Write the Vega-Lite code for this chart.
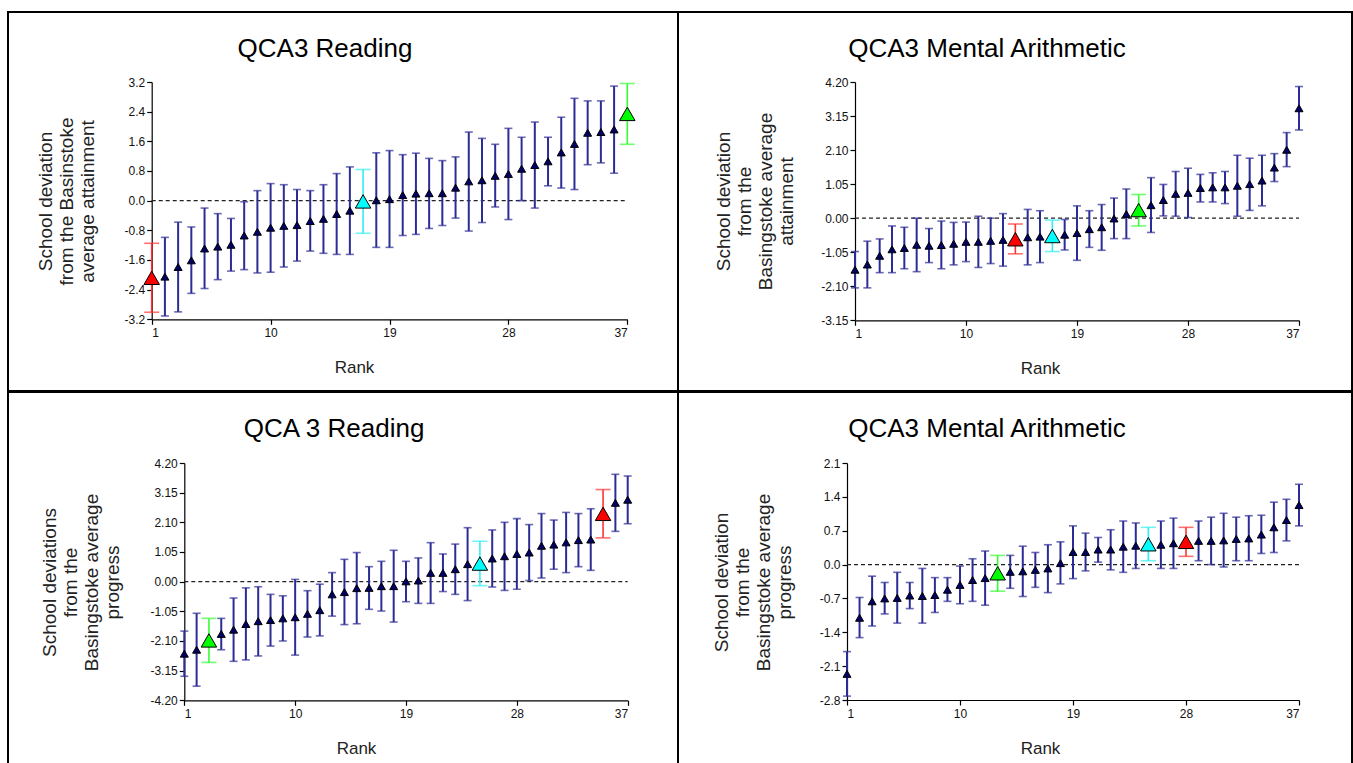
{
  "$schema": "https://vega.github.io/schema/vega-lite/v6.json",
  "padding": {"left": 7, "top": 11, "right": 0, "bottom": 0},
  "spacing": -2,
  "config": {
    "font": "Liberation Sans",
    "view": {"stroke": "#000", "strokeWidth": 2},
    "axis": {"grid": false, "domainColor": "#000", "tickColor": "#000", "labelColor": "#111", "titleColor": "#222", "labelFontSize": 12, "titleFontWeight": "normal", "tickSize": 5, "domainWidth": 1.2, "tickWidth": 1.2, "labelPadding": 3},
    "axisX": {"titleFontSize": 17},
    "axisY": {"titleFontSize": 19, "titleLineHeight": 21, "labelPadding": 2},
    "title": {"fontSize": 26, "fontWeight": "normal", "color": "#000", "anchor": "middle", "frame": "group", "offset": 0, "baseline": "alphabetic"},
    "locale": {"number": {"decimal": ".", "thousands": ",", "grouping": [3], "currency": ["$", ""], "minus": "-"}}
  },
  "datasets": {
    "schools": [
      {"panel": "TL", "rank": 1, "value": -2.08, "lo": -3.01, "hi": -1.15, "group": "School A"},
      {"panel": "TL", "rank": 2, "value": -2.05, "lo": -3.11, "hi": -0.99, "group": "Other"},
      {"panel": "TL", "rank": 3, "value": -1.79, "lo": -3.00, "hi": -0.58, "group": "Other"},
      {"panel": "TL", "rank": 4, "value": -1.61, "lo": -2.50, "hi": -0.71, "group": "Other"},
      {"panel": "TL", "rank": 5, "value": -1.29, "lo": -2.37, "hi": -0.20, "group": "Other"},
      {"panel": "TL", "rank": 6, "value": -1.24, "lo": -2.13, "hi": -0.35, "group": "Other"},
      {"panel": "TL", "rank": 7, "value": -1.19, "lo": -1.90, "hi": -0.48, "group": "Other"},
      {"panel": "TL", "rank": 8, "value": -0.94, "lo": -1.86, "hi": -0.03, "group": "Other"},
      {"panel": "TL", "rank": 9, "value": -0.84, "lo": -1.95, "hi": 0.27, "group": "Other"},
      {"panel": "TL", "rank": 10, "value": -0.73, "lo": -1.93, "hi": 0.46, "group": "Other"},
      {"panel": "TL", "rank": 11, "value": -0.68, "lo": -1.79, "hi": 0.43, "group": "Other"},
      {"panel": "TL", "rank": 12, "value": -0.66, "lo": -1.63, "hi": 0.30, "group": "Other"},
      {"panel": "TL", "rank": 13, "value": -0.55, "lo": -1.36, "hi": 0.27, "group": "Other"},
      {"panel": "TL", "rank": 14, "value": -0.49, "lo": -1.42, "hi": 0.43, "group": "Other"},
      {"panel": "TL", "rank": 15, "value": -0.36, "lo": -1.45, "hi": 0.73, "group": "Other"},
      {"panel": "TL", "rank": 16, "value": -0.27, "lo": -1.45, "hi": 0.91, "group": "Other"},
      {"panel": "TL", "rank": 17, "value": -0.02, "lo": -0.88, "hi": 0.84, "group": "School C"},
      {"panel": "TL", "rank": 18, "value": 0.01, "lo": -1.26, "hi": 1.29, "group": "Other"},
      {"panel": "TL", "rank": 19, "value": 0.04, "lo": -1.26, "hi": 1.35, "group": "Other"},
      {"panel": "TL", "rank": 20, "value": 0.15, "lo": -0.94, "hi": 1.24, "group": "Other"},
      {"panel": "TL", "rank": 21, "value": 0.19, "lo": -0.91, "hi": 1.28, "group": "Other"},
      {"panel": "TL", "rank": 22, "value": 0.20, "lo": -0.75, "hi": 1.14, "group": "Other"},
      {"panel": "TL", "rank": 23, "value": 0.20, "lo": -0.67, "hi": 1.08, "group": "Other"},
      {"panel": "TL", "rank": 24, "value": 0.35, "lo": -0.47, "hi": 1.18, "group": "Other"},
      {"panel": "TL", "rank": 25, "value": 0.52, "lo": -0.82, "hi": 1.85, "group": "Other"},
      {"panel": "TL", "rank": 26, "value": 0.55, "lo": -0.59, "hi": 1.68, "group": "Other"},
      {"panel": "TL", "rank": 27, "value": 0.67, "lo": -0.17, "hi": 1.52, "group": "Other"},
      {"panel": "TL", "rank": 28, "value": 0.72, "lo": -0.51, "hi": 1.95, "group": "Other"},
      {"panel": "TL", "rank": 29, "value": 0.86, "lo": 0.00, "hi": 1.71, "group": "Other"},
      {"panel": "TL", "rank": 30, "value": 0.96, "lo": -0.20, "hi": 2.12, "group": "Other"},
      {"panel": "TL", "rank": 31, "value": 1.06, "lo": 0.40, "hi": 1.71, "group": "Other"},
      {"panel": "TL", "rank": 32, "value": 1.30, "lo": 0.34, "hi": 2.25, "group": "Other"},
      {"panel": "TL", "rank": 33, "value": 1.53, "lo": 0.30, "hi": 2.76, "group": "Other"},
      {"panel": "TL", "rank": 34, "value": 1.83, "lo": 0.97, "hi": 2.69, "group": "Other"},
      {"panel": "TL", "rank": 35, "value": 1.85, "lo": 1.02, "hi": 2.69, "group": "Other"},
      {"panel": "TL", "rank": 36, "value": 1.92, "lo": 0.74, "hi": 3.09, "group": "Other"},
      {"panel": "TL", "rank": 37, "value": 2.34, "lo": 1.52, "hi": 3.16, "group": "School B"},

      {"panel": "TR", "rank": 1, "value": -1.59, "lo": -2.15, "hi": -1.03, "group": "Other"},
      {"panel": "TR", "rank": 2, "value": -1.43, "lo": -2.15, "hi": -0.71, "group": "Other"},
      {"panel": "TR", "rank": 3, "value": -1.16, "lo": -1.68, "hi": -0.64, "group": "Other"},
      {"panel": "TR", "rank": 4, "value": -0.96, "lo": -1.68, "hi": -0.24, "group": "Other"},
      {"panel": "TR", "rank": 5, "value": -0.92, "lo": -1.56, "hi": -0.28, "group": "Other"},
      {"panel": "TR", "rank": 6, "value": -0.82, "lo": -1.65, "hi": 0.00, "group": "Other"},
      {"panel": "TR", "rank": 7, "value": -0.85, "lo": -1.37, "hi": -0.32, "group": "Other"},
      {"panel": "TR", "rank": 8, "value": -0.83, "lo": -1.56, "hi": -0.09, "group": "Other"},
      {"panel": "TR", "rank": 9, "value": -0.79, "lo": -1.44, "hi": -0.13, "group": "Other"},
      {"panel": "TR", "rank": 10, "value": -0.73, "lo": -1.34, "hi": -0.12, "group": "Other"},
      {"panel": "TR", "rank": 11, "value": -0.73, "lo": -1.52, "hi": 0.06, "group": "Other"},
      {"panel": "TR", "rank": 12, "value": -0.70, "lo": -1.40, "hi": 0.00, "group": "Other"},
      {"panel": "TR", "rank": 13, "value": -0.67, "lo": -1.48, "hi": 0.14, "group": "Other"},
      {"panel": "TR", "rank": 14, "value": -0.65, "lo": -1.10, "hi": -0.18, "group": "School A"},
      {"panel": "TR", "rank": 15, "value": -0.59, "lo": -1.44, "hi": 0.27, "group": "Other"},
      {"panel": "TR", "rank": 16, "value": -0.57, "lo": -1.37, "hi": 0.23, "group": "Other"},
      {"panel": "TR", "rank": 17, "value": -0.55, "lo": -1.03, "hi": -0.06, "group": "School C"},
      {"panel": "TR", "rank": 18, "value": -0.51, "lo": -0.98, "hi": -0.04, "group": "Other"},
      {"panel": "TR", "rank": 19, "value": -0.46, "lo": -1.30, "hi": 0.38, "group": "Other"},
      {"panel": "TR", "rank": 20, "value": -0.34, "lo": -0.90, "hi": 0.23, "group": "Other"},
      {"panel": "TR", "rank": 21, "value": -0.28, "lo": -0.99, "hi": 0.42, "group": "Other"},
      {"panel": "TR", "rank": 22, "value": -0.01, "lo": -0.63, "hi": 0.62, "group": "Other"},
      {"panel": "TR", "rank": 23, "value": 0.13, "lo": -0.63, "hi": 0.90, "group": "Other"},
      {"panel": "TR", "rank": 24, "value": 0.25, "lo": -0.24, "hi": 0.73, "group": "School B"},
      {"panel": "TR", "rank": 25, "value": 0.40, "lo": -0.44, "hi": 1.25, "group": "Other"},
      {"panel": "TR", "rank": 26, "value": 0.56, "lo": 0.07, "hi": 1.04, "group": "Other"},
      {"panel": "TR", "rank": 27, "value": 0.75, "lo": 0.06, "hi": 1.44, "group": "Other"},
      {"panel": "TR", "rank": 28, "value": 0.78, "lo": 0.02, "hi": 1.54, "group": "Other"},
      {"panel": "TR", "rank": 29, "value": 0.93, "lo": 0.50, "hi": 1.35, "group": "Other"},
      {"panel": "TR", "rank": 30, "value": 0.95, "lo": 0.50, "hi": 1.40, "group": "Other"},
      {"panel": "TR", "rank": 31, "value": 0.95, "lo": 0.45, "hi": 1.44, "group": "Other"},
      {"panel": "TR", "rank": 32, "value": 1.00, "lo": 0.06, "hi": 1.94, "group": "Other"},
      {"panel": "TR", "rank": 33, "value": 1.05, "lo": 0.24, "hi": 1.85, "group": "Other"},
      {"panel": "TR", "rank": 34, "value": 1.16, "lo": 0.38, "hi": 1.94, "group": "Other"},
      {"panel": "TR", "rank": 35, "value": 1.56, "lo": 1.13, "hi": 1.99, "group": "Other"},
      {"panel": "TR", "rank": 36, "value": 2.11, "lo": 1.59, "hi": 2.64, "group": "Other"},
      {"panel": "TR", "rank": 37, "value": 3.39, "lo": 2.72, "hi": 4.06, "group": "Other"},

      {"panel": "BL", "rank": 1, "value": -2.55, "lo": -3.35, "hi": -1.75, "group": "Other"},
      {"panel": "BL", "rank": 2, "value": -2.41, "lo": -3.70, "hi": -1.12, "group": "Other"},
      {"panel": "BL", "rank": 3, "value": -2.08, "lo": -2.86, "hi": -1.30, "group": "School B"},
      {"panel": "BL", "rank": 4, "value": -1.85, "lo": -2.41, "hi": -1.30, "group": "Other"},
      {"panel": "BL", "rank": 5, "value": -1.70, "lo": -2.82, "hi": -0.58, "group": "Other"},
      {"panel": "BL", "rank": 6, "value": -1.50, "lo": -2.77, "hi": -0.22, "group": "Other"},
      {"panel": "BL", "rank": 7, "value": -1.40, "lo": -2.63, "hi": -0.18, "group": "Other"},
      {"panel": "BL", "rank": 8, "value": -1.36, "lo": -2.28, "hi": -0.45, "group": "Other"},
      {"panel": "BL", "rank": 9, "value": -1.30, "lo": -2.10, "hi": -0.50, "group": "Other"},
      {"panel": "BL", "rank": 10, "value": -1.26, "lo": -2.60, "hi": 0.08, "group": "Other"},
      {"panel": "BL", "rank": 11, "value": -1.14, "lo": -1.96, "hi": -0.32, "group": "Other"},
      {"panel": "BL", "rank": 12, "value": -1.01, "lo": -1.92, "hi": -0.09, "group": "Other"},
      {"panel": "BL", "rank": 13, "value": -0.45, "lo": -1.22, "hi": 0.32, "group": "Other"},
      {"panel": "BL", "rank": 14, "value": -0.37, "lo": -1.52, "hi": 0.79, "group": "Other"},
      {"panel": "BL", "rank": 15, "value": -0.23, "lo": -1.49, "hi": 1.03, "group": "Other"},
      {"panel": "BL", "rank": 16, "value": -0.22, "lo": -0.98, "hi": 0.53, "group": "Other"},
      {"panel": "BL", "rank": 17, "value": -0.16, "lo": -1.04, "hi": 0.72, "group": "Other"},
      {"panel": "BL", "rank": 18, "value": -0.16, "lo": -1.43, "hi": 1.11, "group": "Other"},
      {"panel": "BL", "rank": 19, "value": 0.01, "lo": -0.71, "hi": 0.72, "group": "Other"},
      {"panel": "BL", "rank": 20, "value": 0.04, "lo": -0.77, "hi": 0.84, "group": "Other"},
      {"panel": "BL", "rank": 21, "value": 0.31, "lo": -0.77, "hi": 1.38, "group": "Other"},
      {"panel": "BL", "rank": 22, "value": 0.31, "lo": -0.35, "hi": 0.98, "group": "Other"},
      {"panel": "BL", "rank": 23, "value": 0.44, "lo": -0.45, "hi": 1.33, "group": "Other"},
      {"panel": "BL", "rank": 24, "value": 0.62, "lo": -0.67, "hi": 1.91, "group": "Other"},
      {"panel": "BL", "rank": 25, "value": 0.64, "lo": -0.14, "hi": 1.43, "group": "School C"},
      {"panel": "BL", "rank": 26, "value": 0.82, "lo": -0.19, "hi": 1.83, "group": "Other"},
      {"panel": "BL", "rank": 27, "value": 0.90, "lo": -0.31, "hi": 2.10, "group": "Other"},
      {"panel": "BL", "rank": 28, "value": 0.98, "lo": -0.27, "hi": 2.23, "group": "Other"},
      {"panel": "BL", "rank": 29, "value": 1.03, "lo": 0.04, "hi": 2.02, "group": "Other"},
      {"panel": "BL", "rank": 30, "value": 1.27, "lo": 0.13, "hi": 2.41, "group": "Other"},
      {"panel": "BL", "rank": 31, "value": 1.31, "lo": 0.44, "hi": 2.18, "group": "Other"},
      {"panel": "BL", "rank": 32, "value": 1.39, "lo": 0.32, "hi": 2.45, "group": "Other"},
      {"panel": "BL", "rank": 33, "value": 1.47, "lo": 0.53, "hi": 2.41, "group": "Other"},
      {"panel": "BL", "rank": 34, "value": 1.49, "lo": 0.40, "hi": 2.58, "group": "Other"},
      {"panel": "BL", "rank": 35, "value": 2.40, "lo": 1.55, "hi": 3.26, "group": "School A"},
      {"panel": "BL", "rank": 36, "value": 2.79, "lo": 1.78, "hi": 3.80, "group": "Other"},
      {"panel": "BL", "rank": 37, "value": 2.90, "lo": 2.05, "hi": 3.74, "group": "Other"},

      {"panel": "BR", "rank": 1, "value": -2.26, "lo": -2.72, "hi": -1.80, "group": "Other"},
      {"panel": "BR", "rank": 2, "value": -1.10, "lo": -1.51, "hi": -0.68, "group": "Other"},
      {"panel": "BR", "rank": 3, "value": -0.76, "lo": -1.27, "hi": -0.24, "group": "Other"},
      {"panel": "BR", "rank": 4, "value": -0.70, "lo": -1.02, "hi": -0.37, "group": "Other"},
      {"panel": "BR", "rank": 5, "value": -0.69, "lo": -1.21, "hi": -0.16, "group": "Other"},
      {"panel": "BR", "rank": 6, "value": -0.64, "lo": -0.91, "hi": -0.37, "group": "Other"},
      {"panel": "BR", "rank": 7, "value": -0.65, "lo": -1.21, "hi": -0.08, "group": "Other"},
      {"panel": "BR", "rank": 8, "value": -0.63, "lo": -0.99, "hi": -0.27, "group": "Other"},
      {"panel": "BR", "rank": 9, "value": -0.52, "lo": -0.76, "hi": -0.27, "group": "Other"},
      {"panel": "BR", "rank": 10, "value": -0.42, "lo": -0.81, "hi": -0.03, "group": "Other"},
      {"panel": "BR", "rank": 11, "value": -0.32, "lo": -0.76, "hi": 0.12, "group": "Other"},
      {"panel": "BR", "rank": 12, "value": -0.28, "lo": -0.84, "hi": 0.28, "group": "Other"},
      {"panel": "BR", "rank": 13, "value": -0.18, "lo": -0.55, "hi": 0.19, "group": "School B"},
      {"panel": "BR", "rank": 14, "value": -0.15, "lo": -0.49, "hi": 0.19, "group": "Other"},
      {"panel": "BR", "rank": 15, "value": -0.14, "lo": -0.66, "hi": 0.38, "group": "Other"},
      {"panel": "BR", "rank": 16, "value": -0.11, "lo": -0.47, "hi": 0.25, "group": "Other"},
      {"panel": "BR", "rank": 17, "value": -0.08, "lo": -0.58, "hi": 0.41, "group": "Other"},
      {"panel": "BR", "rank": 18, "value": 0.03, "lo": -0.40, "hi": 0.47, "group": "Other"},
      {"panel": "BR", "rank": 19, "value": 0.26, "lo": -0.29, "hi": 0.80, "group": "Other"},
      {"panel": "BR", "rank": 20, "value": 0.26, "lo": -0.13, "hi": 0.65, "group": "Other"},
      {"panel": "BR", "rank": 21, "value": 0.31, "lo": 0.05, "hi": 0.56, "group": "Other"},
      {"panel": "BR", "rank": 22, "value": 0.31, "lo": -0.11, "hi": 0.72, "group": "Other"},
      {"panel": "BR", "rank": 23, "value": 0.37, "lo": -0.16, "hi": 0.90, "group": "Other"},
      {"panel": "BR", "rank": 24, "value": 0.39, "lo": -0.08, "hi": 0.86, "group": "Other"},
      {"panel": "BR", "rank": 25, "value": 0.42, "lo": 0.08, "hi": 0.77, "group": "School C"},
      {"panel": "BR", "rank": 26, "value": 0.41, "lo": -0.08, "hi": 0.90, "group": "Other"},
      {"panel": "BR", "rank": 27, "value": 0.44, "lo": -0.08, "hi": 0.96, "group": "Other"},
      {"panel": "BR", "rank": 28, "value": 0.47, "lo": 0.17, "hi": 0.77, "group": "School A"},
      {"panel": "BR", "rank": 29, "value": 0.49, "lo": 0.08, "hi": 0.90, "group": "Other"},
      {"panel": "BR", "rank": 30, "value": 0.49, "lo": 0.00, "hi": 0.98, "group": "Other"},
      {"panel": "BR", "rank": 31, "value": 0.50, "lo": -0.05, "hi": 1.06, "group": "Other"},
      {"panel": "BR", "rank": 32, "value": 0.53, "lo": 0.08, "hi": 0.98, "group": "Other"},
      {"panel": "BR", "rank": 33, "value": 0.54, "lo": 0.08, "hi": 1.01, "group": "Other"},
      {"panel": "BR", "rank": 34, "value": 0.62, "lo": 0.23, "hi": 1.02, "group": "Other"},
      {"panel": "BR", "rank": 35, "value": 0.77, "lo": 0.25, "hi": 1.29, "group": "Other"},
      {"panel": "BR", "rank": 36, "value": 0.92, "lo": 0.49, "hi": 1.35, "group": "Other"},
      {"panel": "BR", "rank": 37, "value": 1.23, "lo": 0.80, "hi": 1.66, "group": "Other"}
    ]
  },
  "vconcat": [
    {
      "spacing": 0,
      "bounds": "flush",
      "hconcat": [
        {
          "width": 670, "height": 379,
          "data": {"name": "schools"},
          "transform": [{"filter": "datum.panel === 'TL'"}],
          "title": {"text": "QCA3 Reading", "dx": -18, "dy": 54},
          "encoding": {
            "x": {"field": "rank", "type": "quantitative", "scale": {"domain": [1, 37], "range": [143.7, 619.3], "nice": false, "zero": false},
                  "axis": {"offset": -71.7, "values": [1, 10, 19, 28, 37], "format": "d", "title": "Rank", "titleX": 346, "titleY": 53, "titleAlign": "center", "titleBaseline": "alphabetic"}},
            "y": {"field": "value", "type": "quantitative", "scale": {"domain": [-3.2, 3.2], "range": [307.3, 70], "nice": false, "zero": false},
                  "axis": {"offset": -143.7, "values": [-3.2, -2.4, -1.6, -0.8, 0, 0.8, 1.6, 2.4, 3.2], "format": ".1f", "title": ["School deviation", "from the Basinstoke", "average attainment"], "titleX": -106, "titleY": 189, "titleAngle": -90, "titleAlign": "center", "titleBaseline": "middle"}}
          },
          "layer": [
            {"transform": [{"filter": "datum.rank === 1"}], "mark": {"type": "rule", "strokeDash": [4, 3], "color": "#222", "strokeWidth": 1.2},
             "encoding": {"x": {"datum": 1}, "x2": {"datum": 37}, "y": {"datum": 0}}},
            {"transform": [{"filter": "datum.group === 'Other'"}], "mark": {"type": "rule", "color": "#2c2c96", "strokeWidth": 2},
             "encoding": {"y": {"field": "lo", "type": "quantitative"}, "y2": {"field": "hi"}}},
            {"transform": [{"filter": "datum.group === 'Other'"}, {"fold": ["lo", "hi"], "as": ["end", "bound"]}], "mark": {"type": "tick", "orient": "horizontal", "color": "#2c2c96", "size": 8, "thickness": 1.6},
             "encoding": {"y": {"field": "bound", "type": "quantitative"}}},
            {"transform": [{"filter": "datum.group === 'Other'"}], "mark": {"type": "point", "shape": "triangle-up", "filled": true, "fill": "#000066", "stroke": "#000", "strokeWidth": 1, "size": 64, "opacity": 1}},
            {"transform": [{"filter": "datum.group !== 'Other'"}], "mark": {"type": "rule", "strokeWidth": 1.6},
             "encoding": {"y": {"field": "lo", "type": "quantitative"}, "y2": {"field": "hi"}, "color": {"field": "group", "type": "nominal", "scale": {"domain": ["School A", "School B", "School C"], "range": ["#ff3333", "#33ff33", "#33eeee"]}, "legend": null}}},
            {"transform": [{"filter": "datum.group !== 'Other'"}, {"fold": ["lo", "hi"], "as": ["end", "bound"]}], "mark": {"type": "tick", "orient": "horizontal", "size": 15, "thickness": 1.6},
             "encoding": {"y": {"field": "bound", "type": "quantitative"}, "color": {"field": "group", "type": "nominal", "legend": null}}},
            {"transform": [{"filter": "datum.group !== 'Other'"}], "mark": {"type": "point", "shape": "triangle-up", "filled": true, "stroke": "#000", "strokeWidth": 1, "size": 240, "opacity": 1},
             "encoding": {"fill": {"field": "group", "type": "nominal", "scale": {"domain": ["School A", "School B", "School C"], "range": ["#ff0000", "#00ff00", "#00ffff"]}, "legend": null}}}
          ]
        },
        {
          "width": 674, "height": 379,
          "data": {"name": "schools"},
          "transform": [{"filter": "datum.panel === 'TR'"}],
          "title": {"text": "QCA3 Mental Arithmetic", "dx": -28, "dy": 54},
          "encoding": {
            "x": {"field": "rank", "type": "quantitative", "scale": {"domain": [1, 37], "range": [177, 621], "nice": false, "zero": false},
                  "axis": {"offset": -70.7, "values": [1, 10, 19, 28, 37], "format": "d", "title": "Rank", "titleX": 362, "titleY": 53, "titleAlign": "center", "titleBaseline": "alphabetic"}},
            "y": {"field": "value", "type": "quantitative", "scale": {"domain": [-3.15, 4.2], "range": [308.3, 70], "nice": false, "zero": false},
                  "axis": {"offset": -177, "values": [-3.15, -2.1, -1.05, 0, 1.05, 2.1, 3.15, 4.2], "format": ".2f", "title": ["School deviation", "from the", "Basingstoke average", "attainment"], "titleX": -132, "titleY": 189, "titleAngle": -90, "titleAlign": "center", "titleBaseline": "middle"}}
          },
          "layer": [
            {"transform": [{"filter": "datum.rank === 1"}], "mark": {"type": "rule", "strokeDash": [4, 3], "color": "#222", "strokeWidth": 1.2},
             "encoding": {"x": {"datum": 1}, "x2": {"datum": 37}, "y": {"datum": 0}}},
            {"transform": [{"filter": "datum.group === 'Other'"}], "mark": {"type": "rule", "color": "#2c2c96", "strokeWidth": 2},
             "encoding": {"y": {"field": "lo", "type": "quantitative"}, "y2": {"field": "hi"}}},
            {"transform": [{"filter": "datum.group === 'Other'"}, {"fold": ["lo", "hi"], "as": ["end", "bound"]}], "mark": {"type": "tick", "orient": "horizontal", "color": "#2c2c96", "size": 8, "thickness": 1.6},
             "encoding": {"y": {"field": "bound", "type": "quantitative"}}},
            {"transform": [{"filter": "datum.group === 'Other'"}], "mark": {"type": "point", "shape": "triangle-up", "filled": true, "fill": "#000066", "stroke": "#000", "strokeWidth": 1, "size": 64, "opacity": 1}},
            {"transform": [{"filter": "datum.group !== 'Other'"}], "mark": {"type": "rule", "strokeWidth": 1.6},
             "encoding": {"y": {"field": "lo", "type": "quantitative"}, "y2": {"field": "hi"}, "color": {"field": "group", "type": "nominal", "scale": {"domain": ["School A", "School B", "School C"], "range": ["#ff3333", "#33ff33", "#33eeee"]}, "legend": null}}},
            {"transform": [{"filter": "datum.group !== 'Other'"}, {"fold": ["lo", "hi"], "as": ["end", "bound"]}], "mark": {"type": "tick", "orient": "horizontal", "size": 15, "thickness": 1.6},
             "encoding": {"y": {"field": "bound", "type": "quantitative"}, "color": {"field": "group", "type": "nominal", "legend": null}}},
            {"transform": [{"filter": "datum.group !== 'Other'"}], "mark": {"type": "point", "shape": "triangle-up", "filled": true, "stroke": "#000", "strokeWidth": 1, "size": 240, "opacity": 1},
             "encoding": {"fill": {"field": "group", "type": "nominal", "scale": {"domain": ["School A", "School B", "School C"], "range": ["#ff0000", "#00ff00", "#00ffff"]}, "legend": null}}}
          ]
        }
      ]
    },
    {
      "spacing": 0,
      "bounds": "flush",
      "hconcat": [
        {
          "width": 670, "height": 373,
          "data": {"name": "schools"},
          "transform": [{"filter": "datum.panel === 'BL'"}],
          "title": {"text": "QCA 3 Reading", "dx": -9, "dy": 54},
          "encoding": {
            "x": {"field": "rank", "type": "quantitative", "scale": {"domain": [1, 37], "range": [176.3, 619.7], "nice": false, "zero": false},
                  "axis": {"offset": -64.7, "values": [1, 10, 19, 28, 37], "format": "d", "title": "Rank", "titleX": 348, "titleY": 53, "titleAlign": "center", "titleBaseline": "alphabetic"}},
            "y": {"field": "value", "type": "quantitative", "scale": {"domain": [-4.2, 4.2], "range": [308.3, 71], "nice": false, "zero": false},
                  "axis": {"offset": -176.3, "values": [-4.2, -3.15, -2.1, -1.05, 0, 1.05, 2.1, 3.15, 4.2], "format": ".2f", "title": ["School deviations", "from the", "Basingstoke average", "progress"], "titleX": -135, "titleY": 190, "titleAngle": -90, "titleAlign": "center", "titleBaseline": "middle"}}
          },
          "layer": [
            {"transform": [{"filter": "datum.rank === 1"}], "mark": {"type": "rule", "strokeDash": [4, 3], "color": "#222", "strokeWidth": 1.2},
             "encoding": {"x": {"datum": 1}, "x2": {"datum": 37}, "y": {"datum": 0}}},
            {"transform": [{"filter": "datum.group === 'Other'"}], "mark": {"type": "rule", "color": "#2c2c96", "strokeWidth": 2},
             "encoding": {"y": {"field": "lo", "type": "quantitative"}, "y2": {"field": "hi"}}},
            {"transform": [{"filter": "datum.group === 'Other'"}, {"fold": ["lo", "hi"], "as": ["end", "bound"]}], "mark": {"type": "tick", "orient": "horizontal", "color": "#2c2c96", "size": 8, "thickness": 1.6},
             "encoding": {"y": {"field": "bound", "type": "quantitative"}}},
            {"transform": [{"filter": "datum.group === 'Other'"}], "mark": {"type": "point", "shape": "triangle-up", "filled": true, "fill": "#000066", "stroke": "#000", "strokeWidth": 1, "size": 64, "opacity": 1}},
            {"transform": [{"filter": "datum.group !== 'Other'"}], "mark": {"type": "rule", "strokeWidth": 1.6},
             "encoding": {"y": {"field": "lo", "type": "quantitative"}, "y2": {"field": "hi"}, "color": {"field": "group", "type": "nominal", "scale": {"domain": ["School A", "School B", "School C"], "range": ["#ff3333", "#33ff33", "#33eeee"]}, "legend": null}}},
            {"transform": [{"filter": "datum.group !== 'Other'"}, {"fold": ["lo", "hi"], "as": ["end", "bound"]}], "mark": {"type": "tick", "orient": "horizontal", "size": 15, "thickness": 1.6},
             "encoding": {"y": {"field": "bound", "type": "quantitative"}, "color": {"field": "group", "type": "nominal", "legend": null}}},
            {"transform": [{"filter": "datum.group !== 'Other'"}], "mark": {"type": "point", "shape": "triangle-up", "filled": true, "stroke": "#000", "strokeWidth": 1, "size": 240, "opacity": 1},
             "encoding": {"fill": {"field": "group", "type": "nominal", "scale": {"domain": ["School A", "School B", "School C"], "range": ["#ff0000", "#00ff00", "#00ffff"]}, "legend": null}}}
          ]
        },
        {
          "width": 674, "height": 373,
          "data": {"name": "schools"},
          "transform": [{"filter": "datum.panel === 'BR'"}],
          "title": {"text": "QCA3 Mental Arithmetic", "dx": -28, "dy": 54},
          "encoding": {
            "x": {"field": "rank", "type": "quantitative", "scale": {"domain": [1, 37], "range": [169, 621], "nice": false, "zero": false},
                  "axis": {"offset": -65, "values": [1, 10, 19, 28, 37], "format": "d", "title": "Rank", "titleX": 362, "titleY": 53, "titleAlign": "center", "titleBaseline": "alphabetic"}},
            "y": {"field": "value", "type": "quantitative", "scale": {"domain": [-2.8, 2.1], "range": [308, 71], "nice": false, "zero": false},
                  "axis": {"offset": -169, "values": [-2.8, -2.1, -1.4, -0.7, 0, 0.7, 1.4, 2.1], "format": ".1f", "title": ["School deviation", "from the", "Basingstoke average", "progress"], "titleX": -126, "titleY": 190, "titleAngle": -90, "titleAlign": "center", "titleBaseline": "middle"}}
          },
          "layer": [
            {"transform": [{"filter": "datum.rank === 1"}], "mark": {"type": "rule", "strokeDash": [4, 3], "color": "#222", "strokeWidth": 1.2},
             "encoding": {"x": {"datum": 1}, "x2": {"datum": 37}, "y": {"datum": 0}}},
            {"transform": [{"filter": "datum.group === 'Other'"}], "mark": {"type": "rule", "color": "#2c2c96", "strokeWidth": 2},
             "encoding": {"y": {"field": "lo", "type": "quantitative"}, "y2": {"field": "hi"}}},
            {"transform": [{"filter": "datum.group === 'Other'"}, {"fold": ["lo", "hi"], "as": ["end", "bound"]}], "mark": {"type": "tick", "orient": "horizontal", "color": "#2c2c96", "size": 8, "thickness": 1.6},
             "encoding": {"y": {"field": "bound", "type": "quantitative"}}},
            {"transform": [{"filter": "datum.group === 'Other'"}], "mark": {"type": "point", "shape": "triangle-up", "filled": true, "fill": "#000066", "stroke": "#000", "strokeWidth": 1, "size": 64, "opacity": 1}},
            {"transform": [{"filter": "datum.group !== 'Other'"}], "mark": {"type": "rule", "strokeWidth": 1.6},
             "encoding": {"y": {"field": "lo", "type": "quantitative"}, "y2": {"field": "hi"}, "color": {"field": "group", "type": "nominal", "scale": {"domain": ["School A", "School B", "School C"], "range": ["#ff3333", "#33ff33", "#33eeee"]}, "legend": null}}},
            {"transform": [{"filter": "datum.group !== 'Other'"}, {"fold": ["lo", "hi"], "as": ["end", "bound"]}], "mark": {"type": "tick", "orient": "horizontal", "size": 15, "thickness": 1.6},
             "encoding": {"y": {"field": "bound", "type": "quantitative"}, "color": {"field": "group", "type": "nominal", "legend": null}}},
            {"transform": [{"filter": "datum.group !== 'Other'"}], "mark": {"type": "point", "shape": "triangle-up", "filled": true, "stroke": "#000", "strokeWidth": 1, "size": 240, "opacity": 1},
             "encoding": {"fill": {"field": "group", "type": "nominal", "scale": {"domain": ["School A", "School B", "School C"], "range": ["#ff0000", "#00ff00", "#00ffff"]}, "legend": null}}}
          ]
        }
      ]
    }
  ]
}
